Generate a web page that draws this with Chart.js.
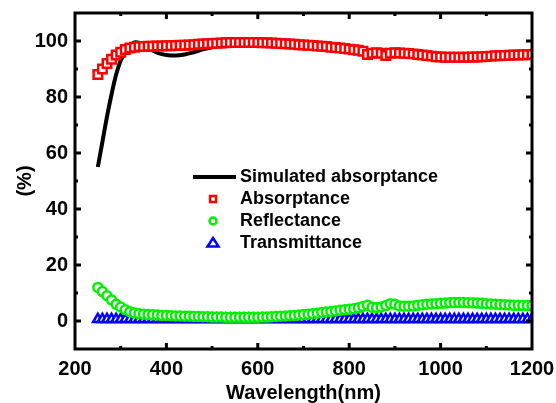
<!DOCTYPE html>
<html>
<head>
<meta charset="utf-8">
<script src="https://cdn.jsdelivr.net/npm/chart.js"></script>
<style>
  html, body { margin: 0; padding: 0; background: #fff; }
  #wrap { width: 556px; height: 403px; }
</style>
</head>
<body>
<div id="wrap"><canvas id="myChart" width="556" height="403"></canvas></div>
<script>
// wavelength grid of the measured curves (nm)
const wavelength = [
  250, 260, 270, 280, 290, 300, 310, 320, 330, 340,
  350, 360, 370, 380, 390, 400, 410, 420, 430, 440,
  450, 460, 470, 480, 490, 500, 510, 520, 530, 540,
  550, 560, 570, 580, 590, 600, 610, 620, 630, 640,
  650, 660, 670, 680, 690, 700, 710, 720, 730, 740,
  750, 760, 770, 780, 790, 800, 810, 820, 830, 840,
  850, 860, 870, 880, 890, 900, 910, 920, 930, 940,
  950, 960, 970, 980, 990, 1000, 1010, 1020, 1030, 1040,
  1050, 1060, 1070, 1080, 1090, 1100, 1110, 1120, 1130, 1140,
  1150, 1160, 1170, 1180, 1190, 1200
];
const absorptance = [
  88, 90, 92, 93.5, 95, 96, 97, 97.5, 97.8, 98,
  98, 98.1, 98.1, 98.2, 98.2, 98.3, 98.3, 98.4, 98.5, 98.5,
  98.6, 98.7, 98.8, 98.9, 99, 99.1, 99.2, 99.3, 99.4, 99.5,
  99.5, 99.5, 99.5, 99.5, 99.5, 99.5, 99.4, 99.4, 99.3, 99.2,
  99.1, 99, 98.9, 98.8, 98.7, 98.6, 98.5, 98.4, 98.2, 98.1,
  98, 97.8, 97.7, 97.5, 97.3, 97.1, 96.9, 96.7, 96.3, 95.2,
  95.6, 95.8, 95.6, 94.8, 95.6, 95.8, 95.7, 95.6, 95.5, 95.4,
  95.2, 95, 94.8, 94.6, 94.4, 94.3, 94.2, 94.2, 94.2, 94.2,
  94.2, 94.2, 94.3, 94.3, 94.4, 94.5, 94.6, 94.7, 94.7, 94.8,
  94.9, 95, 95, 95.1, 95.1, 95.2
];
const reflectance = [
  12, 10.5, 9, 7.5, 6, 5, 4, 3.3, 2.9, 2.6,
  2.4, 2.3, 2.2, 2.1, 2, 2, 1.9, 1.8, 1.8, 1.7,
  1.7, 1.6, 1.6, 1.5, 1.5, 1.4, 1.4, 1.4, 1.3, 1.3,
  1.3, 1.3, 1.3, 1.3, 1.3, 1.3, 1.4, 1.4, 1.5, 1.6,
  1.7, 1.8, 1.9, 2, 2.1, 2.3, 2.4, 2.6, 2.8, 3,
  3.2, 3.4, 3.6, 3.8, 4, 4.2, 4.4, 4.7, 5.2, 5.6,
  4.9, 4.8, 5, 5.5, 6.2, 6, 5.4, 5.3, 5.3, 5.4,
  5.6, 5.8, 6, 6.1, 6.2, 6.3, 6.4, 6.5, 6.6, 6.6,
  6.6, 6.5, 6.5, 6.4, 6.3, 6.2, 6.1, 6, 5.9, 5.8,
  5.7, 5.6, 5.6, 5.5, 5.5, 5.5
];
const transmittance = [
  0.6, 0.6, 0.6, 0.6, 0.6, 0.6, 0.6, 0.6, 0.6, 0.6,
  0.6, 0.6, 0.6, 0.6, 0.6, 0.6, 0.6, 0.6, 0.6, 0.6,
  0.6, 0.6, 0.6, 0.6, 0.6, 0.6, 0.6, 0.6, 0.6, 0.6,
  0.6, 0.6, 0.6, 0.6, 0.6, 0.6, 0.6, 0.6, 0.6, 0.6,
  0.6, 0.6, 0.6, 0.6, 0.6, 0.6, 0.6, 0.6, 0.6, 0.6,
  0.6, 0.6, 0.6, 0.6, 0.6, 0.6, 0.6, 0.6, 0.6, 0.6,
  0.6, 0.6, 0.6, 0.6, 0.6, 0.6, 0.6, 0.6, 0.6, 0.6,
  0.6, 0.6, 0.6, 0.6, 0.6, 0.6, 0.6, 0.6, 0.6, 0.6,
  0.6, 0.6, 0.6, 0.6, 0.6, 0.6, 0.6, 0.6, 0.6, 0.6,
  0.6, 0.6, 0.6, 0.6, 0.6, 0.6
];
// simulated curve
const simWavelength = [250, 260, 270, 280, 290, 300, 310, 320, 330, 340, 350, 360, 370, 380, 390, 400,
  420, 440, 460, 480, 500, 520, 550, 600, 650, 700, 750, 800, 850, 900, 950, 1000, 1050, 1100, 1150, 1200];
const simAbsorptance = [55, 64, 73, 81, 88, 93, 96, 98.3, 99.5, 99.4, 98.6, 97.6, 96.6, 95.8, 95.3, 95,
  94.8, 95.2, 96, 97, 97.8, 98.5, 99, 99.3, 99, 98.4, 97.8, 96.9, 95.4, 95.3, 95, 94.1, 94, 94.3, 94.7, 95];

const xTicks = [200, 400, 600, 800, 1000, 1200];
const xMinor = [300, 500, 700, 900, 1100];
const yTicks = [0, 20, 40, 60, 80, 100];
const yMinor = [10, 30, 50, 70, 90];

const legendLabels = ["Simulated absorptance", "Absorptance", "Reflectance", "Transmittance"];

const FONT = "'Liberation Sans', Arial, sans-serif";
const GREEN = "#00f000";

const toPoints = (xs, ys) => xs.map((x, i) => ({ x: x, y: ys[i] }));

// frame with inward ticks on all four sides, placed from the scales
const framePlugin = {
  id: "frame",
  afterDatasetsDraw(chart) {
    const { ctx, scales } = chart;
    const L = scales.x.getPixelForValue(200), R = scales.x.getPixelForValue(1200);
    const T = scales.y.getPixelForValue(110), B = scales.y.getPixelForValue(-10);
    ctx.save();
    ctx.strokeStyle = "#000";
    ctx.lineWidth = 3;
    ctx.strokeRect(L, T, R - L, B - T);
    const xtick = (vals, len) => {
      ctx.beginPath();
      vals.forEach(v => {
        const px = scales.x.getPixelForValue(v);
        if (px > L + 2 && px < R - 2) {
          ctx.moveTo(px, B); ctx.lineTo(px, B - len);
          ctx.moveTo(px, T); ctx.lineTo(px, T + len);
        }
      });
      ctx.stroke();
    };
    const ytick = (vals, len) => {
      ctx.beginPath();
      vals.forEach(v => {
        const py = scales.y.getPixelForValue(v);
        ctx.moveTo(L, py); ctx.lineTo(L + len, py);
        ctx.moveTo(R, py); ctx.lineTo(R - len, py);
      });
      ctx.stroke();
    };
    xtick(xTicks, 6);
    xtick(xMinor, 3);
    ytick(yTicks, 6);
    ytick(yMinor, 3);
    ctx.restore();
  }
};

// legend drawn inside the plot
const legendPlugin = {
  id: "insideLegend",
  afterDraw(chart) {
    const { ctx } = chart;
    const xText = 240, y0 = 177, dy = 22, mx = 213;
    ctx.save();
    ctx.font = "bold 18px " + FONT;
    ctx.fillStyle = "#000";
    ctx.textBaseline = "middle";
    ctx.textAlign = "left";
    legendLabels.forEach((t, i) => ctx.fillText(t, xText, y0 + i * dy));
    ctx.strokeStyle = "#000";
    ctx.lineWidth = 4;
    ctx.beginPath();
    ctx.moveTo(193, y0); ctx.lineTo(236, y0);
    ctx.stroke();
    ctx.lineWidth = 2.5;
    ctx.fillStyle = "#fff";
    ctx.strokeStyle = "#ff0000";
    ctx.beginPath(); ctx.rect(mx - 3, y0 + dy - 3, 6, 6); ctx.fill(); ctx.stroke();
    ctx.strokeStyle = GREEN;
    ctx.beginPath(); ctx.arc(mx, y0 + 2 * dy, 3.5, 0, Math.PI * 2); ctx.fill(); ctx.stroke();
    ctx.strokeStyle = "#0000ff";
    const ty = y0 + 3 * dy;
    ctx.beginPath();
    ctx.moveTo(mx, ty - 5); ctx.lineTo(mx + 5.5, ty + 3.5); ctx.lineTo(mx - 5.5, ty + 3.5); ctx.closePath();
    ctx.fill(); ctx.stroke();
    ctx.restore();
  }
};

new Chart(document.getElementById("myChart"), {
  type: "scatter",
  data: {
    datasets: [
      {
        label: legendLabels[0],
        data: toPoints(simWavelength, simAbsorptance),
        showLine: true,
        borderColor: "#000",
        borderWidth: 4,
        pointRadius: 0,
        tension: 0.4,
        order: 4
      },
      {
        label: legendLabels[1],
        data: toPoints(wavelength, absorptance),
        pointStyle: "rect",
        pointRadius: 6,
        borderColor: "#ff0000",
        backgroundColor: "#fff",
        borderWidth: 2.5,
        order: 3
      },
      {
        label: legendLabels[2],
        data: toPoints(wavelength, reflectance),
        pointStyle: "circle",
        pointRadius: 4.5,
        borderColor: GREEN,
        backgroundColor: "#fff",
        borderWidth: 2.5,
        order: 1
      },
      {
        label: legendLabels[3],
        data: toPoints(wavelength, transmittance),
        pointStyle: "triangle",
        pointRadius: 5.5,
        borderColor: "#0000ff",
        backgroundColor: "#fff",
        borderWidth: 2.5,
        order: 2
      }
    ]
  },
  options: {
    responsive: false,
    animation: false,
    layout: { padding: { top: 13, right: 24, bottom: 0, left: 0 } },
    plugins: {
      legend: { display: false },
      tooltip: { enabled: false }
    },
    scales: {
      x: {
        type: "linear",
        min: 200,
        max: 1200,
        afterBuildTicks: s => { s.ticks = xTicks.map(v => ({ value: v })); },
        afterFit: s => { s.height = 54; s.paddingLeft = 0; s.paddingRight = 0; },
        grid: { display: false, drawTicks: false },
        border: { display: false },
        ticks: {
          color: "#000",
          font: { family: FONT, size: 20, weight: "bold" },
          padding: 8,
          maxRotation: 0,
          callback: v => String(v)
        },
        title: {
          display: true,
          text: "Wavelength(nm)",
          color: "#000",
          font: { family: FONT, size: 20, weight: "bold", lineHeight: 1 },
          padding: { top: 0, bottom: 0 }
        }
      },
      y: {
        type: "linear",
        min: -10,
        max: 110,
        afterBuildTicks: s => { s.ticks = yTicks.map(v => ({ value: v })); },
        afterFit: s => { s.width = 75; s.paddingTop = 0; s.paddingBottom = 0; },
        grid: { display: false, drawTicks: false },
        border: { display: false },
        ticks: {
          color: "#000",
          font: { family: FONT, size: 20, weight: "bold" },
          padding: 7,
          callback: v => String(v)
        },
        title: {
          display: true,
          text: "(%)",
          color: "#000",
          font: { family: FONT, size: 20, weight: "bold", lineHeight: 1 },
          padding: { top: 15, bottom: 0 }
        }
      }
    }
  },
  plugins: [framePlugin, legendPlugin]
});
</script>
</body>
</html>
